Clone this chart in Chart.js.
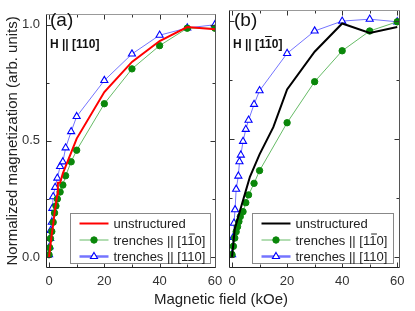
<!DOCTYPE html>
<html>
<head>
<meta charset="utf-8">
<script src="https://cdn.jsdelivr.net/npm/chart.js@4.4.1/dist/chart.umd.min.js"></script>
<style>
  html, body { margin: 0; padding: 0; background: #fff; }
  #wrap { position: relative; width: 415px; height: 311px; overflow: hidden; font-family: "Liberation Sans", Arial, sans-serif; }
  canvas { position: absolute; left: 0; top: 0; }
  .lbl { position: absolute; line-height: 1; color: #111; white-space: nowrap; }
  .panel { font-size: 19px; }
  .field { font-size: 12px; font-weight: bold; }
  .ov { text-decoration: overline; }
  #xtitle { font-size: 15px; color: #222; left: 0; width: 442px; text-align: center; }
</style>
</head>
<body>
<div id="wrap">
  <canvas id="chartA" width="415" height="311"></canvas>
  <canvas id="chartB" width="415" height="311"></canvas>
  <div class="lbl panel" style="left:50px;top:10px">(a)</div>
  <div class="lbl field" style="left:50px;top:38px">H || [110]</div>
  <div class="lbl panel" style="left:234px;top:10px">(b)</div>
  <div class="lbl field" style="left:233px;top:38px">H || [1<span class="ov">1</span>0]</div>
  <div class="lbl" id="xtitle" style="top:291px">Magnetic field (kOe)</div>
</div>
<script>
// panel (a), H || [110]
const fieldRedA = [0, 0.5, 1, 1.5, 2, 3, 3.2, 4, 5, 6, 8, 10, 20, 30, 40, 50, 60];
const magRedA = [0, 0.05, 0.10, 0.14, 0.19, 0.27, 0.32, 0.32, 0.36, 0.39, 0.45, 0.51, 0.71, 0.84, 0.93, 0.99, 0.98];
const fieldGreenA = [0, 0.25, 0.5, 1, 1.5, 2, 2.5, 3, 4, 5, 6, 8, 10, 20, 30, 40, 50, 60];
const magGreenA = [0.01, 0.04, 0.08, 0.11, 0.15, 0.19, 0.22, 0.25, 0.28, 0.31, 0.35, 0.41, 0.46, 0.66, 0.81, 0.91, 0.985, 0.985];
const fieldBlueA = [0, 0.2, 0.4, 0.6, 1, 1.2, 1.5, 2.2, 3, 4, 5, 6, 8, 10, 20, 30, 40, 50, 60];
const magBlueA = [0.01, 0.045, 0.08, 0.115, 0.15, 0.21, 0.26, 0.30, 0.34, 0.39, 0.41, 0.47, 0.54, 0.605, 0.76, 0.874, 0.955, 0.986, 1.0];

// panel (b), H || [1-10]
const fieldBlackB = [0, 1, 3, 5, 6.5, 10, 15, 20, 30, 40, 50, 60];
const magBlackB = [0, 0.12, 0.20, 0.28, 0.34, 0.435, 0.55, 0.71, 0.87, 0.99, 0.95, 0.975];
const fieldGreenB = [0, 0.5, 1, 1.5, 2, 2.5, 3, 4, 5, 6, 8, 10, 20, 30, 40, 50, 60];
const magGreenB = [0.01, 0.045, 0.08, 0.107, 0.128, 0.15, 0.171, 0.192, 0.23, 0.263, 0.312, 0.366, 0.569, 0.743, 0.874, 0.958, 0.997];
const fieldBlueB = [0, 0.4, 0.7, 1.1, 1.5, 2.3, 2.7, 3.2, 4, 5, 6, 8, 10, 20, 30, 40, 50, 60];
const magBlueB = [0.01, 0.083, 0.143, 0.2, 0.287, 0.343, 0.404, 0.432, 0.49, 0.541, 0.58, 0.647, 0.705, 0.863, 0.958, 1.0, 1.008, 0.997];

const labelPlain = "unstructured";
const labelPerp = "trenches || [11\u03050]";
const labelPar = "trenches || [110]";

const xMajor = [0, 20, 40, 60];
const xMinor = [10, 30, 50];
const yMajor = [0, 0.5, 1.0];
const yMinor = [0.25, 0.75];

Chart.defaults.font.family = '"Liberation Sans", Arial, sans-serif';
Chart.defaults.color = "#333";

function toPoints(xs, ys) {
    return xs.map((x, i) => ({ x: x, y: ys[i] }));
}

function plainLine(label, xs, ys, color) {
    return {
        label: label,
        data: toPoints(xs, ys),
        borderColor: color,
        borderWidth: 2,
        pointRadius: 0,
        legendLine: 2
    };
}

function dotLine(label, xs, ys) {
    return {
        label: label,
        data: toPoints(xs, ys),
        borderColor: "#66bb66",
        borderWidth: 1,
        pointStyle: "circle",
        pointRadius: 3.2,
        pointBackgroundColor: "#0a870a",
        pointBorderColor: "#0a870a",
        pointBorderWidth: 1,
        legendLine: 1
    };
}

function triangleLine(label, xs, ys) {
    return {
        label: label,
        data: toPoints(xs, ys),
        borderColor: "#7474ff",
        borderWidth: 1,
        pointStyle: "triangle",
        pointRadius: 4.1,
        pointBackgroundColor: "#ffffff",
        pointBorderColor: "#0000ff",
        pointBorderWidth: 1.1,
        legendLine: 2.5
    };
}

// inward ticks on all four sides plus the frame
const frameTicks = {
    id: "frameTicks",
    afterDatasetsDraw(chart) {
        const { ctx, chartArea: a, scales: { x, y } } = chart;
        const L = Math.round(a.left) + 0.5, R = Math.round(a.right) - 0.5;
        const T = Math.round(a.top) + 0.5, B = Math.round(a.bottom) - 0.5;
        ctx.save();
        ctx.lineWidth = 1;
        ctx.strokeStyle = "#333";
        const tick = (x1, y1, x2, y2) => {
            ctx.beginPath();
            ctx.moveTo(x1, y1);
            ctx.lineTo(x2, y2);
            ctx.stroke();
        };
        xMajor.concat(xMinor).forEach(v => {
            const len = xMajor.includes(v) ? 5 : 3;
            const px = Math.round(x.getPixelForValue(v)) + 0.5;
            tick(px, B, px, B - len);
            tick(px, T, px, T + len);
        });
        yMajor.concat(yMinor).forEach(v => {
            const len = yMajor.includes(v) ? 5 : 3;
            const py = Math.round(y.getPixelForValue(v)) + 0.5;
            tick(L, py, L + len, py);
            tick(R, py, R - len, py);
        });
        ctx.strokeStyle = "#999";
        tick(L, T, R, T);
        ctx.strokeStyle = "#555";
        tick(R, T, R, B);
        ctx.strokeStyle = "#222";
        tick(L, T, L, B);
        tick(L, B, R, B);
        ctx.restore();
    }
};

// boxed legend sitting in the lower right of the plot
const boxLegend = {
    id: "boxLegend",
    afterDraw(chart, args, opts) {
        const { ctx, chartArea: a } = chart;
        const left = Math.round(a.left + opts.offsetX) + 0.5;
        const top = Math.round(a.bottom - opts.offsetY) + 0.5;
        ctx.save();
        ctx.fillStyle = "#fff";
        ctx.fillRect(left, top, opts.width, opts.height);
        ctx.strokeStyle = "#888";
        ctx.lineWidth = 1;
        ctx.strokeRect(left, top, opts.width, opts.height);

        ctx.font = '13px "Liberation Sans", Arial, sans-serif';
        ctx.textBaseline = "alphabetic";
        chart.data.datasets.forEach((ds, i) => {
            const cy = top + 10 + i * 16.5;
            ctx.strokeStyle = ds.borderColor;
            ctx.lineWidth = ds.legendLine;
            ctx.beginPath();
            ctx.moveTo(left + 9, cy);
            ctx.lineTo(left + 38, cy);
            ctx.stroke();
            if (ds.pointRadius > 0) {
                ctx.fillStyle = ds.pointBackgroundColor;
                ctx.strokeStyle = ds.pointBorderColor;
                ctx.lineWidth = ds.pointBorderWidth;
                Chart.helpers.drawPoint(ctx, {
                    pointStyle: ds.pointStyle,
                    radius: ds.pointRadius,
                    borderWidth: ds.pointBorderWidth,
                    rotation: 0
                }, left + 23.5, cy);
            }
            drawLabel(ctx, ds.label, left + 43, cy + 4.5);
        });
        ctx.restore();
    }
};

// draws a label, turning a combining overline into a bar over the previous digit
function drawLabel(ctx, text, x, y) {
    const plain = text.replace(/\u0305/g, "");
    ctx.fillStyle = "#222";
    ctx.fillText(plain, x, y);
    let pos = 0;
    for (let i = 0; i < text.length; i++) {
        if (text[i] === "\u0305") {
            const before = ctx.measureText(plain.slice(0, pos - 1)).width;
            const w = ctx.measureText(plain[pos - 1]).width;
            ctx.fillRect(x + before + 1, y - 11, w - 1.5, 1);
        } else {
            pos++;
        }
    }
}

function makePanel(id, datasets, opts) {
    return new Chart(document.getElementById(id), {
        type: "line",
        data: { datasets: datasets },
        options: {
            responsive: false,
            animation: false,
            layout: { padding: { left: 0, top: 10, right: opts.padRight, bottom: 0 } },
            elements: { line: { tension: 0 } },
            scales: {
                x: {
                    type: "linear",
                    min: -1.1,
                    max: opts.xMax,
                    grid: { display: false, drawTicks: false },
                    border: { display: false },
                    afterBuildTicks: s => { s.ticks = xMajor.map(v => ({ value: v })); },
                    afterFit: s => { s.height = 43; },
                    ticks: {
                        padding: 6,
                        maxRotation: 0,
                        font: { size: 13 },
                        color: "#333"
                    }
                },
                y: {
                    type: "linear",
                    min: -0.047,
                    max: 1.047,
                    grid: { display: false, drawTicks: false },
                    border: { display: false },
                    afterBuildTicks: s => { s.ticks = yMajor.map(v => ({ value: v })); },
                    afterFit: s => { s.width = opts.yWidth; },
                    ticks: {
                        display: opts.yLabels,
                        padding: 6,
                        font: { size: 13 },
                        color: "#333",
                        callback: v => v.toFixed(1)
                    },
                    title: {
                        display: opts.yLabels,
                        text: "Normalized magnetization (arb. units)",
                        font: { size: 15 },
                        color: "#222",
                        padding: { top: 4, bottom: 0 }
                    }
                }
            },
            plugins: {
                legend: { display: false },
                tooltip: { enabled: false },
                boxLegend: { offsetX: opts.legendX, offsetY: 55, width: opts.legendW, height: 50 }
            }
        },
        plugins: [frameTicks, boxLegend]
    });
}

makePanel("chartA", [
    plainLine(labelPlain, fieldRedA, magRedA, "#ff0000"),
    dotLine(labelPerp, fieldGreenA, magGreenA),
    triangleLine(labelPar, fieldBlueA, magBlueA)
], { padRight: 199, yWidth: 46, yLabels: true, xMax: 60.4, legendX: 24, legendW: 140 });

makePanel("chartB", [
    plainLine(labelPlain, fieldBlackB, magBlackB, "#000000"),
    dotLine(labelPerp, fieldGreenB, magGreenB),
    triangleLine(labelPar, fieldBlueB, magBlueB)
], { padRight: 15, yWidth: 229, yLabels: false, xMax: 61, legendX: 23, legendW: 141 });
</script>
</body>
</html>
